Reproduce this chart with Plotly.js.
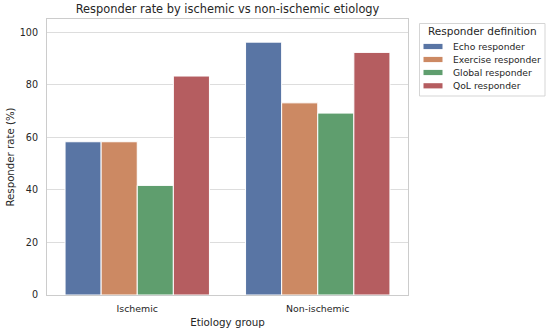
<!DOCTYPE html>
<html>
<head>
<meta charset="utf-8">
<script src="https://cdn.plot.ly/plotly-3.0.1.min.js"></script>
<style>html,body{margin:0;padding:0;background:#fff;}#chart{width:550px;height:333px;}</style>
</head>
<body>
<div id="chart"></div>
<script>
const groups = ["Ischemic", "Non-ischemic"];
const seriesNames = ["Echo responder", "Exercise responder", "Global responder", "QoL responder"];
const echoVals = [58.3, 96.2];
const exerciseVals = [58.3, 73.1];
const globalVals = [41.7, 69.2];
const qolVals = [83.3, 92.3];
const colors = ["#5975A4", "#CC8963", "#5F9E6E", "#B55D60"];
const allVals = [echoVals, exerciseVals, globalVals, qolVals];
const legendTitle = "Responder definition";

const traces = seriesNames.map((name, i) => ({
  type: "bar",
  name: name,
  x: groups,
  y: allVals[i],
  marker: {color: colors[i], line: {color: "#ffffff", width: 1}},
  hoverinfo: "skip",
  showlegend: false
}));

const font = "DejaVu Sans, sans-serif";
const M = {l: 47, r: 142, t: 19, b: 38};
const W = 550, H = 333;
const pw = W - M.l - M.r, ph = H - M.t - M.b;
const px = x => (x - M.l) / pw;
const py = y => (H - M.b - y) / ph;

// custom legend (matplotlib style)
const shapes = [{
  type: "rect", xref: "paper", yref: "paper",
  x0: px(419.5), x1: px(545), y0: py(96), y1: py(23.5),
  line: {color: "#d5d5d5", width: 1}, fillcolor: "#ffffff", layer: "above"
}];
const annotations = [{
  xref: "paper", yref: "paper", x: px(482), y: py(31.5),
  text: legendTitle, showarrow: false, xanchor: "center", yanchor: "middle",
  font: {size: 10.5, family: font, color: "#262626"}
}];
const rowY = [46.5, 59.5, 72.5, 85.8];
seriesNames.forEach((name, i) => {
  shapes.push({
    type: "rect", xref: "paper", yref: "paper",
    x0: px(423.5), x1: px(442.5), y0: py(rowY[i] + 2.6), y1: py(rowY[i] - 2.6),
    line: {width: 0}, fillcolor: colors[i], layer: "above"
  });
  annotations.push({
    xref: "paper", yref: "paper", x: px(450.5), y: py(rowY[i]),
    text: name, showarrow: false, xanchor: "left", yanchor: "middle",
    font: {size: 9.2, family: font, color: "#262626"}
  });
});

const layout = {
  width: W, height: H,
  margin: {l: M.l, r: M.r, t: M.t, b: M.b, pad: 0},
  paper_bgcolor: "#ffffff", plot_bgcolor: "#ffffff",
  font: {family: font, color: "#262626", size: 10},
  title: {text: "Responder rate by ischemic vs non-ischemic etiology", font: {size: 11.4, family: font, color: "#262626"}, xref: "paper", x: 0.5, xanchor: "center", yref: "container", y: 0.985, yanchor: "top"},
  barmode: "group", bargap: 0.2, bargroupgap: 0,
  xaxis: {
    title: {text: "Etiology group", font: {size: 10.3}, standoff: 5},
    range: [-0.5, 1.5], showgrid: false, zeroline: false,
    showline: true, mirror: true, linecolor: "#cccccc", linewidth: 1,
    ticks: "", ticklabelstandoff: 5, tickfont: {size: 9.4}
  },
  yaxis: {
    title: {text: "Responder rate (%)", font: {size: 10.2}, standoff: 3},
    range: [0, 105], tickvals: [0, 20, 40, 60, 80, 100],
    showgrid: true, gridcolor: "#dddddd", gridwidth: 1, zeroline: false,
    showline: true, mirror: true, linecolor: "#cccccc", linewidth: 1,
    ticks: "", ticklabelstandoff: 6, tickfont: {size: 9.6}
  },
  shapes: shapes,
  annotations: annotations,
  showlegend: false
};

Plotly.newPlot("chart", traces, layout, {displayModeBar: false, staticPlot: true});
</script>
</body>
</html>
